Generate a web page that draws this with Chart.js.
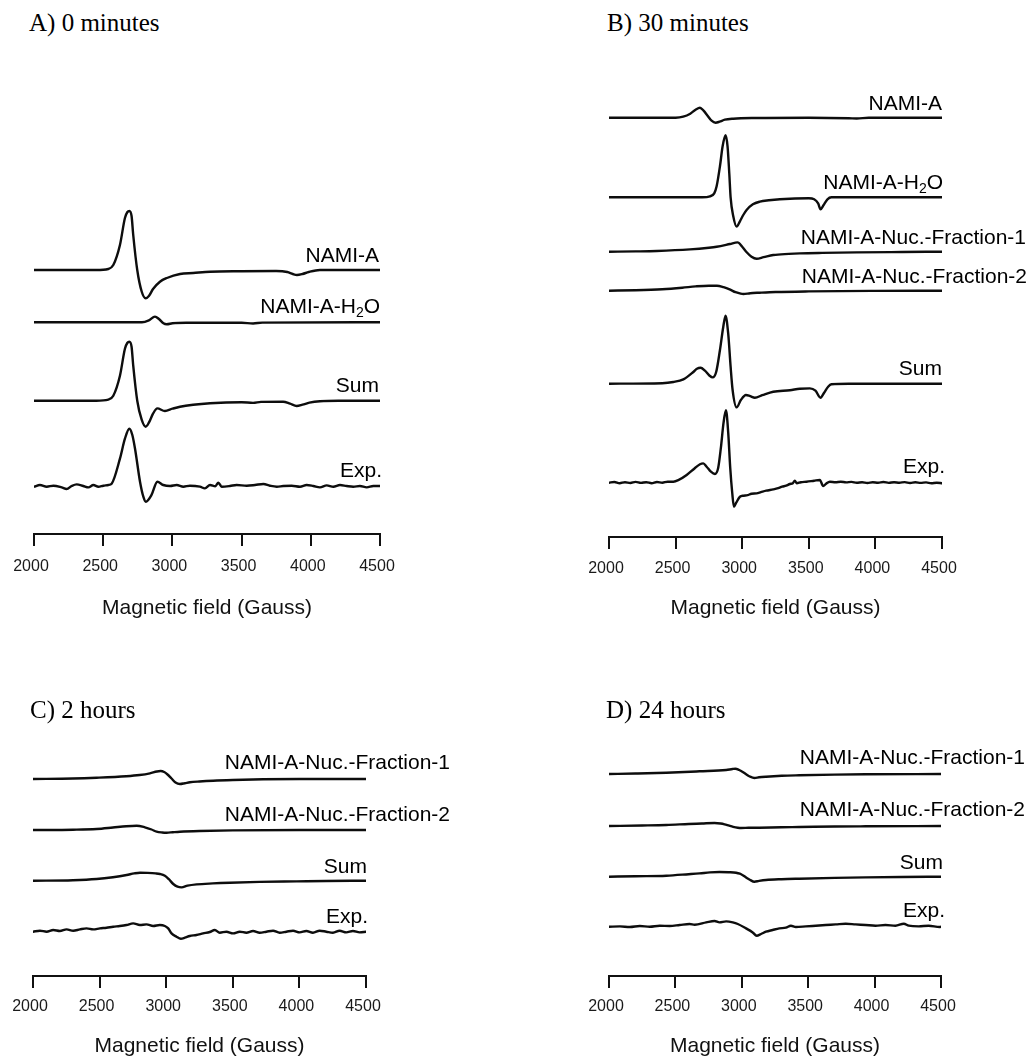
<!DOCTYPE html>
<html><head><meta charset="utf-8">
<script src="https://cdn.jsdelivr.net/npm/chart.js@4.4.1/dist/chart.umd.min.js"></script>
<style>
html,body{margin:0;padding:0;background:#fff;}
body{width:1031px;height:1059px;position:relative;overflow:hidden;}
canvas{position:absolute;}
.ptitle{position:absolute;font-family:"Liberation Serif","Times New Roman",serif;font-size:25px;line-height:28px;color:#000;white-space:nowrap;z-index:2;}
</style></head><body>
<div class="ptitle" style="left:29px;top:9px">A) 0 minutes</div>
<div class="ptitle" style="left:607px;top:9px">B) 30 minutes</div>
<div class="ptitle" style="left:30px;top:696px">C) 2 hours</div>
<div class="ptitle" style="left:606px;top:696px">D) 24 hours</div>
<canvas id="cA" width="515" height="570" style="left:0;top:60px"></canvas>
<canvas id="cB" width="511" height="570" style="left:520px;top:60px"></canvas>
<canvas id="cC" width="515" height="339" style="left:0;top:720px"></canvas>
<canvas id="cD" width="511" height="339" style="left:520px;top:720px"></canvas>
<script>
// ---------- tick labels / axis ----------
const FIELD_TICKS = [2000, 2500, 3000, 3500, 4000, 4500];
const AXIS_TITLE = 'Magnetic field (Gauss)';

// ---------- Panel A: 0 minutes  ([field (G), signal (a.u.)]) ----------
const A_NAMI = [[2000,0],[2450,0],[2537,1],[2573,5],[2621,25],[2657,52],[2675,58],[2689,59],[2705,54],[2717,35],[2746,0],[2778,-21.5],[2807,-28.3],[2830,-26],[2860,-19],[2910,-11.7],[2960,-8],[3055,-4],[3150,-3],[3272,-1.7],[3500,-1.2],[3750,-1],[3830,-2],[3870,-4],[3900,-5],[3940,-4],[3985,-2],[4066,0],[4200,0],[4500,0]];
const A_H2O  = [[2000,0],[2780,0],[2830,2],[2874,5.7],[2905,3],[2935,-1],[2959,-2],[3000,-1],[3100,-0.5],[3500,-0.5],[3583,-1.2],[3650,-0.3],[4500,0]];
const A_SUM  = [[2000,0],[2450,0],[2537,1],[2573,5],[2621,25],[2657,52],[2675,58],[2689,59],[2705,54],[2717,35],[2746,0],[2778,-19],[2807,-26],[2830,-22],[2860,-13],[2891,-7.7],[2946,-10.3],[3000,-8],[3055,-6],[3150,-4],[3272,-2.5],[3500,-1.5],[3583,-2.2],[3640,-1.2],[3800,-1],[3850,-3],[3898,-5.3],[3940,-4],[3990,-2],[4066,-0.5],[4200,0],[4500,0]];
const A_EXP  = [[2000,0],[2043,1.7],[2092,0],[2140,1],[2200,-0.7],[2236,-2.3],[2272,0.7],[2308,2.3],[2356,0.7],[2393,-0.7],[2429,1.7],[2465,0],[2501,1],[2537,1.7],[2561,3],[2621,28],[2657,48],[2689,58],[2710,52],[2730,38],[2766,5],[2790,-10],[2808,-15],[2850,-8],[2891,5],[2934,1.7],[2983,0.7],[3031,1.7],[3079,0],[3127,1],[3199,0],[3235,-1.7],[3272,1.7],[3310,0.5],[3332,4],[3356,0],[3416,0.7],[3464,1.7],[3537,1],[3597,1.7],[3657,2.7],[3705,1],[3754,0],[3801,0.7],[3862,1],[3922,0],[3970,1.7],[4018,0.7],[4066,-0.7],[4115,1.3],[4163,0],[4211,1.7],[4259,0.7],[4307,0],[4355,0.7],[4404,-0.7],[4452,0.7],[4500,0.7]];

// ---------- Panel B: 30 minutes ----------
const B_NAMI = [[2000,0],[2500,0],[2557,1],[2610,4],[2650,8],[2683,10],[2710,7],[2740,2],[2770,-3],[2800,-5],[2830,-4],[2870,-2],[2933,-1],[3100,-0.3],[3500,0],[3800,-0.5],[3860,-0.8],[3950,0],[4500,0]];
const B_H2O  = [[2000,0],[2700,0],[2758,1],[2790,4],[2808,11],[2833,31],[2853,51],[2875,62],[2890,51],[2903,24],[2913,0],[2933,-19],[2958,-29.3],[2983,-24],[3008,-17.7],[3033,-12.7],[3080,-7],[3133,-4.3],[3200,-3],[3283,-2],[3500,-1],[3540,-2],[3570,-6],[3588,-12],[3610,-8],[3640,-2],[3670,0],[4500,0]];
const B_FR1  = [[2000,0],[2200,0.3],[2358,0.7],[2608,2.3],[2750,4],[2808,5],[2908,7.7],[2965,9.3],[3000,5],[3030,0],[3070,-5],[3108,-7],[3160,-5.5],[3233,-3.3],[3350,-2.2],[3433,-1.7],[3600,-1.2],[3860,-0.7],[4200,-0.3],[4500,0]];
const B_FR2  = [[2000,0],[2200,0.5],[2400,1.5],[2550,3],[2650,4.3],[2750,5],[2810,5],[2860,3.5],[2910,1],[2950,-1.5],[2983,-2.7],[3008,-3.3],[3060,-2.5],[3130,-2],[3250,-1.3],[3500,-0.7],[4000,-0.2],[4500,0]];
const B_SUM  = [[2000,0],[2400,0.5],[2483,1.7],[2558,4.3],[2633,11.7],[2660,15],[2688,16],[2720,13],[2755,8],[2778,6.3],[2805,12],[2833,33.7],[2858,57],[2875,68],[2895,50],[2913,17],[2928,-6.3],[2958,-23.7],[2990,-16.3],[3028,-11.3],[3060,-12.5],[3095,-14],[3150,-11.5],[3233,-8],[3358,-6.5],[3433,-5],[3508,-4.7],[3550,-7],[3588,-14],[3615,-9],[3645,-3],[3670,-0.5],[3800,0],[4500,0]];
const B_EXP  = [[2000,0],[2040,0.7],[2080,-0.5],[2120,0.5],[2160,-0.3],[2200,0.8],[2240,-0.2],[2280,0.5],[2320,-0.5],[2360,0.7],[2400,0],[2440,1],[2483,1],[2520,2.5],[2583,7.7],[2640,14],[2683,18.5],[2708,19.3],[2733,16],[2765,11],[2795,8.7],[2820,15],[2840,35],[2860,60],[2878,72.5],[2895,50],[2910,15],[2925,-10],[2938,-24],[2955,-20],[2983,-14],[3010,-13],[3040,-12.5],[3070,-11],[3108,-10.7],[3140,-9.5],[3180,-8],[3233,-6.7],[3270,-5.5],[3300,-4],[3330,-3],[3358,-1.3],[3380,-0.5],[3395,2],[3410,-0.5],[3440,0.5],[3483,1],[3540,2],[3583,2.7],[3608,-3.3],[3630,-1],[3658,1],[3700,0.5],[3740,1],[3780,0.3],[3820,0.8],[3860,0],[3900,0.5],[3940,-0.3],[3980,0.5],[4020,0],[4060,0.7],[4100,-0.2],[4140,0.5],[4180,0],[4220,0.6],[4260,-0.3],[4300,0.4],[4340,-0.2],[4380,0.3],[4420,-0.5],[4460,0],[4500,-0.5]];

// ---------- Panel C: 2 hours ----------
const C_FR1 = [[2000,0],[2300,0.5],[2478,1.3],[2700,2.8],[2800,4],[2878,5.7],[2930,7.5],[2958,8],[2985,7],[3010,4.5],[3040,0.5],[3070,-3.5],[3103,-5],[3140,-4.2],[3178,-3.3],[3250,-2.5],[3353,-1.7],[3500,-1],[3728,-0.3],[4000,0],[4500,0]];
const C_FR2 = [[2000,0],[2300,0.3],[2478,1],[2600,2.5],[2700,3.8],[2778,4.3],[2840,2.7],[2890,0.5],[2928,-1.7],[2970,-2.5],[3003,-2.7],[3050,-2.2],[3103,-1.7],[3250,-1],[3500,-0.4],[4000,0],[4500,0]];
const C_SUM = [[2000,0],[2300,0.5],[2478,1.7],[2600,3.5],[2703,5.7],[2760,7.3],[2803,8],[2860,7.8],[2920,7.3],[2953,6.7],[2990,5],[3020,1.5],[3053,-3.3],[3085,-6],[3115,-6.7],[3160,-5],[3228,-3.7],[3350,-2.7],[3478,-2],[3700,-1.2],[3978,-0.7],[4200,-0.3],[4500,0]];
const C_EXP = [[2000,0],[2052,1],[2102,0],[2152,1.7],[2202,0.7],[2252,2.3],[2302,1],[2352,2.3],[2402,3.3],[2452,2.3],[2502,3.3],[2552,4],[2602,5],[2652,5.7],[2702,6.7],[2752,8.3],[2802,6.7],[2852,7.3],[2902,5.7],[2952,6.7],[2990,5.7],[3015,3.3],[3040,-1.7],[3077,-5],[3110,-7],[3140,-6],[3177,-4.3],[3227,-3.3],[3277,-1.7],[3327,-0.3],[3365,1.7],[3402,-1],[3452,0],[3502,-1.7],[3552,0],[3602,-1],[3652,0.7],[3702,-1],[3752,0],[3802,1],[3852,-1],[3902,0],[3952,1],[4002,-0.7],[4052,0.7],[4102,-1],[4152,1],[4202,0],[4252,-1],[4302,1],[4352,-0.7],[4402,0.7],[4452,-0.7],[4500,0]];

// ---------- Panel D: 24 hours ----------
const D_FR1 = [[2000,0],[2200,0.5],[2432,1.3],[2682,2.7],[2882,4],[2930,5],[2952,5.3],[2980,4],[3007,2],[3035,-0.5],[3060,-2.5],[3095,-4],[3130,-3.3],[3182,-2.7],[3300,-1.8],[3432,-1.3],[3700,-0.6],[3932,-0.3],[4500,0]];
const D_FR2 = [[2000,0],[2250,0.5],[2432,1],[2600,2],[2700,2.5],[2795,3],[2840,2.5],[2870,1.7],[2905,0.3],[2935,-0.8],[2970,-1.7],[2995,-2],[3050,-1.8],[3132,-1.7],[3300,-1.2],[3432,-1],[3700,-0.5],[3932,-0.3],[4500,0]];
const D_SUM = [[2000,0],[2200,0.5],[2432,1],[2600,2.5],[2682,3.3],[2760,4.3],[2832,4.7],[2900,4.5],[2957,4],[2985,3],[3007,1.5],[3035,-1],[3060,-3],[3095,-5],[3130,-4.2],[3182,-3.3],[3300,-2.5],[3432,-2],[3700,-1.2],[3932,-0.7],[4200,-0.3],[4500,0]];
const D_EXP = [[2000,0],[2082,0.3],[2157,-0.3],[2232,0.7],[2307,0],[2382,1],[2457,0.7],[2532,1.7],[2607,2.7],[2645,2],[2732,4.3],[2795,5.7],[2832,4.3],[2882,5.3],[2932,4.3],[2970,2.7],[3032,-1.7],[3082,-5.7],[3112,-9],[3145,-7.3],[3182,-5],[3232,-3.3],[3282,-1.7],[3332,-1],[3370,1],[3407,-0.3],[3482,0.3],[3557,1],[3632,1.7],[3707,2.3],[3782,3],[3857,2.3],[3932,1.7],[4007,1],[4082,1.7],[4157,1],[4220,3],[4257,1],[4332,0.3],[4407,1],[4490,-0.3],[4500,0]];

// ---------- trace names and vertical stacking offsets (a.u.) ----------
const NAMES_A = ['NAMI-A', 'NAMI-A-H2O', 'Sum', 'Exp.'];
const NAMES_B = ['NAMI-A', 'NAMI-A-H2O', 'NAMI-A-Nuc.-Fraction-1', 'NAMI-A-Nuc.-Fraction-2', 'Sum', 'Exp.'];
const NAMES_CD = ['NAMI-A-Nuc.-Fraction-1', 'NAMI-A-Nuc.-Fraction-2', 'Sum', 'Exp.'];
const OFFSETS_A = [264, 211.7, 133.3, 47.3];
const OFFSETS_B = [419.3, 339.7, 285.3, 246.3, 153.3, 54.3];
const OFFSETS_C = [197, 146, 95.3, 44.3];
const OFFSETS_D = [202, 150, 99.3, 49.3];

// ---------- layout (pixels) ----------
const LAYOUT = {
  cA: {padL:34, padR:135, plotH:474, scaleH:96, tickPad:11.4, titlePad:9.4,
       labelDx:[-1,0,-1,2], labelDy:[8.3,9.6,8.4,10]},
  cB: {padL:89, padR:89, plotH:477, scaleH:93, tickPad:10.4, titlePad:9.4,
       labelDx:[0,1,84,85,0,3], labelDy:[7.7,8,7.7,7.4,8.7,9.4]},
  cC: {padL:33, padR:149, plotH:256, scaleH:83, tickPad:9.4, titlePad:0,
       labelDx:[84,84,1,2], labelDy:[10,9.3,7.4,9]},
  cD: {padL:89, padR:90, plotH:256, scaleH:83, tickPad:9.4, titlePad:0,
       labelDx:[84,84,2,4], labelDy:[9.7,10,7.4,9.4]}
};

const SANS = '"Liberation Sans", Arial, sans-serif';

const traceLabels = {
  id: 'traceLabels',
  afterDatasetsDraw(chart) {
    const ctx = chart.ctx, xs = chart.scales.x, ys = chart.scales.y;
    const xEnd = xs.getPixelForValue(4500);
    ctx.save();
    ctx.fillStyle = '#000';
    ctx.textBaseline = 'alphabetic';
    chart.data.datasets.forEach(ds => {
      const xr = xEnd + ds.labelDx;
      const y = ys.getPixelForValue(ds.baseOffset) - ds.labelDy;
      if (ds.label === 'NAMI-A-H2O') {
        const mainT = 'NAMI-A-H', subT = '2', tailT = 'O';
        ctx.font = '21px ' + SANS;
        const w1 = ctx.measureText(mainT).width, w3 = ctx.measureText(tailT).width;
        ctx.font = '14px ' + SANS;
        const w2 = ctx.measureText(subT).width;
        let x = xr - (w1 + w2 + w3);
        ctx.textAlign = 'left';
        ctx.font = '21px ' + SANS; ctx.fillText(mainT, x, y); x += w1;
        ctx.font = '14px ' + SANS; ctx.fillText(subT, x, y + 4); x += w2;
        ctx.font = '21px ' + SANS; ctx.fillText(tailT, x, y);
      } else {
        ctx.font = '21px ' + SANS;
        ctx.textAlign = 'right';
        ctx.fillText(ds.label, xr, y);
      }
    });
    ctx.restore();
  }
};

function makePanel(id, names, series, offsets) {
  const L = LAYOUT[id];
  const datasets = series.map((s, i) => ({
    label: names[i],
    data: s.map(([g, a]) => ({x: g, y: a + offsets[i]})),
    baseOffset: offsets[i],
    labelDx: L.labelDx[i],
    labelDy: L.labelDy[i],
    borderColor: '#0d0d0d',
    borderWidth: 2.4,
    pointRadius: 0,
    fill: false,
    cubicInterpolationMode: 'monotone',
    borderJoinStyle: 'round',
    borderCapStyle: 'round'
  }));
  new Chart(document.getElementById(id), {
    type: 'line',
    data: {datasets},
    options: {
      responsive: false,
      animation: false,
      devicePixelRatio: 1,
      layout: {padding: {left: L.padL, right: L.padR, top: 0, bottom: 0}},
      plugins: {legend: {display: false}, tooltip: {enabled: false}},
      scales: {
        x: {
          type: 'linear', position: 'bottom', min: 2000, max: 4500,
          afterFit: s => { s.height = L.scaleH; },
          afterBuildTicks: s => { s.ticks = FIELD_TICKS.map(v => ({value: v})); },
          ticks: {callback: v => String(v), font: {family: SANS, size: 16}, color: '#1a1a1a',
                  padding: L.tickPad, labelOffset: -3, maxRotation: 0, autoSkip: false},
          grid: {display: true, drawOnChartArea: false, drawTicks: true, tickLength: 12,
                 color: '#111', lineWidth: 2},
          border: {display: true, color: '#111', width: 2},
          title: {display: true, text: AXIS_TITLE, font: {family: SANS, size: 21}, color: '#111',
                  padding: {top: 0, bottom: L.titlePad}}
        },
        y: {type: 'linear', display: false, min: 0, max: L.plotH}
      }
    },
    plugins: [traceLabels]
  });
}

makePanel('cA', NAMES_A, [A_NAMI, A_H2O, A_SUM, A_EXP], OFFSETS_A);
makePanel('cB', NAMES_B, [B_NAMI, B_H2O, B_FR1, B_FR2, B_SUM, B_EXP], OFFSETS_B);
makePanel('cC', NAMES_CD, [C_FR1, C_FR2, C_SUM, C_EXP], OFFSETS_C);
makePanel('cD', NAMES_CD, [D_FR1, D_FR2, D_SUM, D_EXP], OFFSETS_D);
</script>
</body></html>
